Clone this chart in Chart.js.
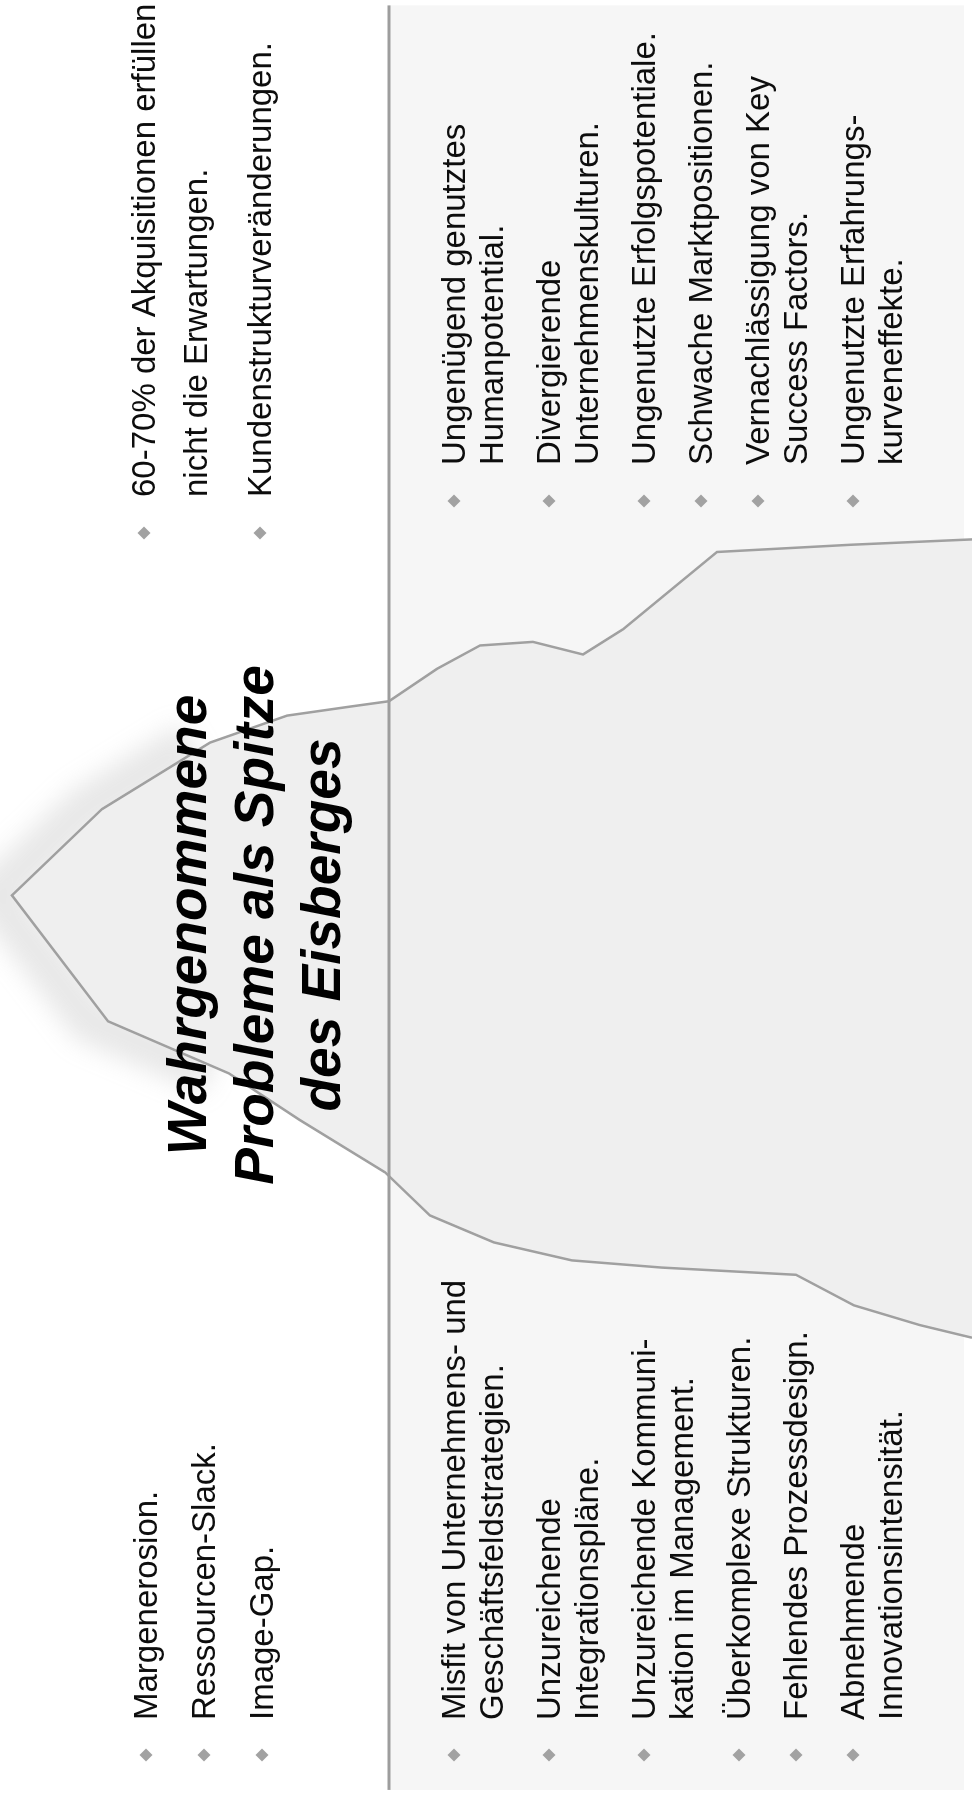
<!DOCTYPE html>
<html><head><meta charset="utf-8">
<script src="https://cdn.jsdelivr.net/npm/chart.js@4.4.1/dist/chart.umd.min.js"></script>
<style>
html,body{margin:0;padding:0;overflow:hidden;background:#fff;width:972px;height:1798px;}
#wrap{position:absolute;left:0;top:0;width:1798px;height:972px;transform-origin:0 0;transform:translateY(1798px) rotate(-90deg);}
canvas{display:block;}
</style></head><body>
<div id="wrap"><canvas id="c" width="1798" height="972"></canvas></div>
<script>
// Iceberg outline: horizontal position (% of width) and elevation (waterline = 0)
const outlinePos  = [25.6, 26.3, 27.4, 29.1, 29.5, 29.9, 30.9, 32.4, 34.8, 37.7, 40.3, 43.2, 50.2, 55.0, 58.7, 60.2, 60.7, 61.0, 62.8, 64.1, 64.3, 63.6, 65.0, 69.3, 69.7, 70.0];
const outlineElev = [-58.3, -53.1, -46.5, -40.7, -27.3, -18.3, -10.5, -4.1, 0.4, 8.9, 16.0, 28.1, 37.7, 28.7, 17.9, 10.2, 3.9, 0.0, -4.8, -9.1, -14.4, -19.4, -23.4, -32.8, -46.1, -58.3];
const seaLevel = 0;
const seaExtent = [0.45, 99.7];
const elevRange = [-58.3, 38.9];

const titleLines = ['Wahrgenommene', 'Probleme als Spitze', 'des Eisberges'];
const tipLeft = [['Margenerosion.'], ['Ressourcen-Slack.'], ['Image-Gap.']];
const tipRight = [['60-70% der Akquisitionen erfüllen', 'nicht die Erwartungen.'], ['Kundenstrukturveränderungen.']];
const deepLeft = [
  ['Misfit von Unternehmens- und', 'Geschäftsfeldstrategien.'],
  ['Unzureichende', 'Integrationspläne.'],
  ['Unzureichende Kommuni-', 'kation im Management.'],
  ['Überkomplexe Strukturen.'],
  ['Fehlendes Prozessdesign.'],
  ['Abnehmende', 'Innovationsintensität.']
];
const deepRight = [
  ['Ungenügend genutztes', 'Humanpotential.'],
  ['Divergierende', 'Unternehmenskulturen.'],
  ['Ungenutzte Erfolgspotentiale.'],
  ['Schwache Marktpositionen.'],
  ['Vernachlässigung von Key', 'Success Factors.'],
  ['Ungenutzte Erfahrungs-', 'kurveneffekte.']
];

const FONT = "'Liberation Sans', Arial, Helvetica, sans-serif";
const outline = outlinePos.map((x, i) => ({x: x, y: outlineElev[i]}));

function drawList(ctx, items, textX, bulletX, first, lineH, gap) {
  let y = first;
  ctx.font = '33px ' + FONT;
  ctx.textBaseline = 'alphabetic';
  ctx.textAlign = 'left';
  items.forEach(lines => {
    const cy = y - 11;
    ctx.fillStyle = '#a2a2a2';
    ctx.beginPath();
    ctx.moveTo(bulletX, cy - 6.5);
    ctx.lineTo(bulletX + 6.5, cy);
    ctx.lineTo(bulletX, cy + 6.5);
    ctx.lineTo(bulletX - 6.5, cy);
    ctx.closePath();
    ctx.fill();
    ctx.fillStyle = '#0d0d0d';
    lines.forEach((t, k) => {
      ctx.fillText(t, textX, y);
      if (k < lines.length - 1) y += lineH;
    });
    y += lineH + gap;
  });
}

const iceberg = {
  id: 'iceberg',
  beforeDraw(chart) {
    const ctx = chart.ctx, xs = chart.scales.x, ys = chart.scales.y, a = chart.chartArea;
    ctx.save();
    ctx.fillStyle = '#ffffff';
    ctx.fillRect(0, 0, chart.width, chart.height);
    const x0 = xs.getPixelForValue(seaExtent[0]), x1 = xs.getPixelForValue(seaExtent[1]);
    const yw = ys.getPixelForValue(seaLevel);
    ctx.fillStyle = '#f6f6f6';
    ctx.fillRect(x0, yw, x1 - x0, a.bottom - 8 - yw);
    ctx.restore();
  },
  beforeDatasetsDraw(chart) {
    const ctx = chart.ctx, a = chart.chartArea;
    const pts = chart.getDatasetMeta(1).data;
    ctx.save();
    // soft blurred halo near the peak
    ctx.filter = 'blur(12px)';
    ctx.strokeStyle = 'rgba(150,150,150,0.22)';
    ctx.lineWidth = 44;
    ctx.beginPath();
    let started = false;
    pts.forEach((p, i) => {
      if (outlineElev[i] > 12) {
        if (!started) { ctx.moveTo(p.x, p.y - 18); started = true; } else ctx.lineTo(p.x, p.y - 18);
      }
    });
    ctx.stroke();
    ctx.filter = 'none';
    // iceberg body
    ctx.fillStyle = '#efefef';
    ctx.beginPath();
    pts.forEach((p, i) => i ? ctx.lineTo(p.x, p.y) : ctx.moveTo(p.x, p.y));
    ctx.lineTo(pts[pts.length - 1].x, a.bottom);
    ctx.lineTo(pts[0].x, a.bottom);
    ctx.closePath();
    ctx.fill();
    ctx.restore();
  },
  afterDraw(chart) {
    const ctx = chart.ctx;
    ctx.save();
    drawList(ctx, tipLeft, 78, 43, 157, 58, 0);
    drawList(ctx, tipRight, 1301, 1265, 155, 52, 12);
    drawList(ctx, deepLeft, 78, 43, 465, 38, 19);
    drawList(ctx, deepRight, 1333, 1297, 465, 38, 19);
    ctx.font = 'italic bold 55px ' + FONT;
    ctx.fillStyle = '#000';
    ctx.textAlign = 'center';
    ctx.textBaseline = 'alphabetic';
    titleLines.forEach((t, i) => ctx.fillText(t, 873, 206 + i * 67));
    ctx.restore();
  }
};

new Chart(document.getElementById('c'), {
  type: 'scatter',
  data: {
    datasets: [
      {
        label: 'Wasserlinie',
        data: [{x: seaExtent[0], y: seaLevel}, {x: seaExtent[1], y: seaLevel}],
        showLine: true, borderColor: '#9d9d9d', borderWidth: 3, pointRadius: 0, fill: false, order: 0
      },
      {
        label: 'Eisberg',
        data: outline,
        showLine: true, borderColor: '#a0a0a0', borderWidth: 2.5, pointRadius: 0, fill: false, tension: 0, order: 1
      }
    ]
  },
  options: {
    responsive: false,
    animation: false,
    devicePixelRatio: 1,
    layout: {padding: 0},
    scales: {
      x: {type: 'linear', min: 0, max: 100, display: false},
      y: {type: 'linear', min: elevRange[0], max: elevRange[1], display: false}
    },
    plugins: {legend: {display: false}, tooltip: {enabled: false}, title: {display: false}}
  },
  plugins: [iceberg]
});
</script>
</body></html>
